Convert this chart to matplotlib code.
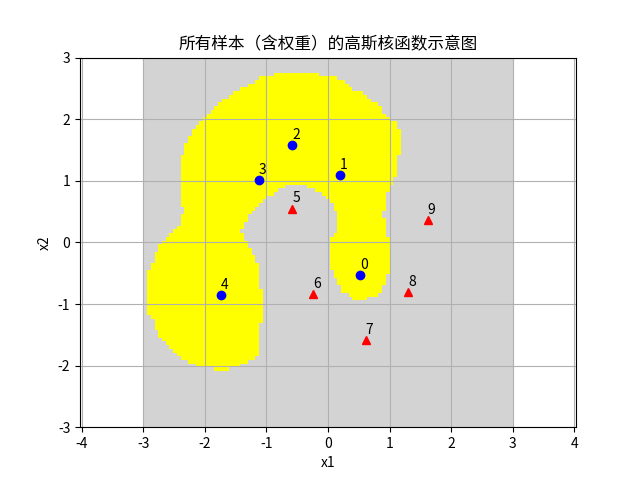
import matplotlib
matplotlib.use('Agg')
import matplotlib.pyplot as plt
from matplotlib.colors import ListedColormap
import numpy as np

plt.rcParams['font.family'] = ['Noto Sans CJK SC', 'DejaVu Sans']
plt.rcParams['axes.unicode_minus'] = False

# sample points, labels 0-4 are blue, 5-9 are red
pos_x1 = [0.52, 0.19, -0.58, -1.12, -1.74]
pos_x2 = [-0.53, 1.09, 1.58, 1.01, -0.86]
neg_x1 = [-0.58, -0.24, 0.61, 1.30, 1.62]
neg_x2 = [0.55, -0.84, -1.59, -0.81, 0.36]

# yellow cells of the decision grid, rows 15 to 94 from the bottom
first_row = 15
span1_start = [19, 14, 12, 10, 9, 8, 7, 6, 5, 4,
               4, 3, 3, 3, 2, 1, 1, 1, 1, 1,
               1, 1, 1, 1, 1, 1, 1, 2, 2, 3,
               3, 3, 4, 4, 5, 6, 7, 8, 9, 10,
               10, 10, 11, 11, 10, 10, 10, 10, 10, 10,
               10, 10, 10, 10, 10, 10, 10, 10, 11, 11,
               11, 12, 12, 13, 13, 14, 15, 16, 17, 18,
               19, 20, 21, 23, 24, 26, 28, 30, 31, 35]
span1_end = [23, 26, 28, 30, 31, 31, 31, 31, 31, 31,
             31, 31, 31, 32, 32, 32, 32, 32, 32, 32,
             32, 32, 31, 31, 31, 31, 31, 31, 31, 30,
             30, 29, 29, 28, 28, 27, 27, 26, 27, 27,
             28, 28, 29, 30, 31, 32, 33, 35, 36, 38,
             67, 67, 68, 68, 68, 68, 68, 68, 69, 69,
             69, 69, 69, 69, 69, 68, 68, 66, 65, 64,
             64, 63, 61, 60, 59, 56, 55, 54, 52, 47]
# second span only exists on rows 34 to 64 (right arm of the shape)
span2_row = 34
span2_start = [56, 55, 53, 53, 52, 52, 51, 51, 50, 50, 50,
               50, 50, 50, 50, 50, 50, 51, 52, 52, 52,
               52, 52, 52, 51, 51, 50, 49, 48, 46, 44]
span2_end = [60, 63, 64, 64, 65, 65, 65, 66, 66, 66, 66,
             66, 66, 66, 66, 66, 66, 65, 65, 65, 65,
             65, 64, 64, 65, 65, 65, 65, 65, 66, 66]

edges = np.linspace(-3, 3, 100)
region = np.zeros((99, 99))
for i in range(len(span1_start)):
    region[first_row + i, span1_start[i]:span1_end[i]] = 1
for i in range(len(span2_start)):
    region[span2_row + i, span2_start[i]:span2_end[i]] = 1

fig, ax = plt.subplots(figsize=(6.4, 4.8), dpi=100)
ax.pcolormesh(edges, edges, region, cmap=ListedColormap(['lightgray', 'yellow']))
ax.plot(pos_x1, pos_x2, 'o', color='blue')
ax.plot(neg_x1, neg_x2, '^', color='red')

for i, (a, b) in enumerate(zip(pos_x1 + neg_x1, pos_x2 + neg_x2)):
    ax.text(a, b + 0.1, str(i), fontsize=10, zorder=4)

ax.set_xlim(-4.03, 4.03)
ax.set_ylim(-3, 3)
ax.set_xlabel('x1')
ax.set_ylabel('x2')
ax.set_title('所有样本（含权重）的高斯核函数示意图')
ax.grid(True)

fig.savefig('out.png', dpi=100)
